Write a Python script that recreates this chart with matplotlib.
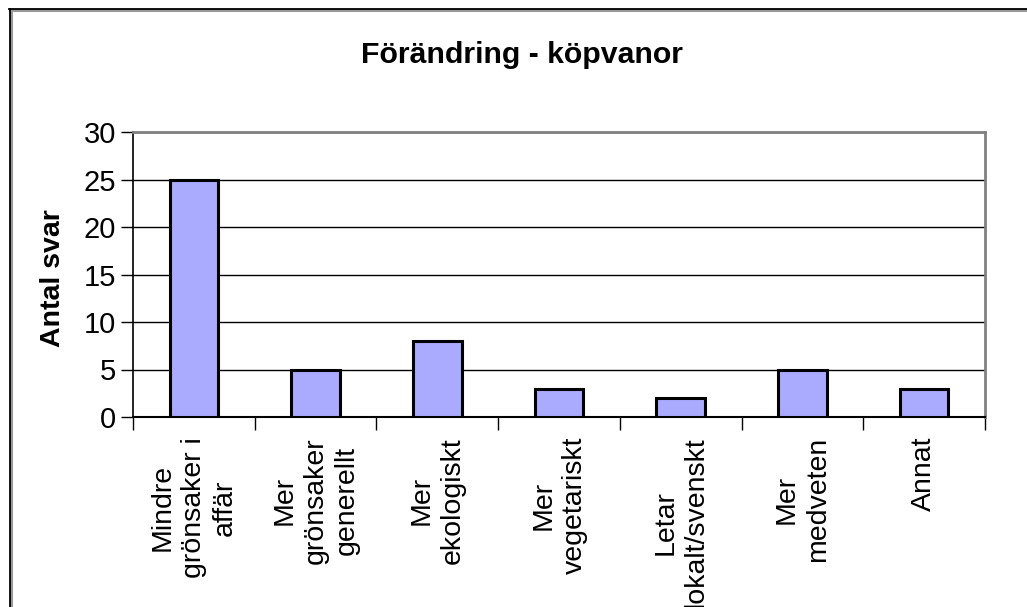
import matplotlib
matplotlib.use("Agg")
import matplotlib.pyplot as plt
from matplotlib.lines import Line2D

categories = ["Mindre\ngrönsaker i\naffär", "Mer\ngrönsaker\ngenerellt", "Mer\nekologiskt",
              "Mer\nvegetariskt", "Letar\nlokalt/svenskt", "Mer\nmedveten", "Annat"]
values = [25, 5, 8, 3, 2, 5, 3]
yticks = [0, 5, 10, 15, 20, 25, 30]
title = "Förändring - köpvanor"
ylabel = "Antal svar"

plt.rcParams['font.family'] = ['Liberation Sans', 'DejaVu Sans']

W, H = 1027, 607
fig = plt.figure(figsize=(W / 100, H / 100), dpi=100)
fig.patch.set_facecolor('white')

# outer chart border (only left/top visible)
fig.add_artist(Line2D([10.5 / W, 10.5 / W], [0, 1 - 9.5 / H], transform=fig.transFigure, color='#999999', lw=2.2))
fig.add_artist(Line2D([10.5 / W, 1], [1 - 9.5 / H, 1 - 9.5 / H], transform=fig.transFigure, color='#999999', lw=2.2))
fig.add_artist(Line2D([9.5 / W, 9.5 / W], [0, 1 - 9 / H], transform=fig.transFigure, color='black', lw=1.3))
fig.add_artist(Line2D([9 / W, 1], [1 - 9 / H, 1 - 9 / H], transform=fig.transFigure, color='black', lw=1.3))

left, right, top, bottom = 133, 985, 132, 417
ax = fig.add_axes([left / W, 1 - bottom / H, (right - left) / W, (bottom - top) / H])

x = list(range(len(categories)))
ax.bar(x, values, width=0.4, color='#AAAAFF', edgecolor='black', linewidth=2.2, zorder=3)

ax.set_xlim(-0.5, len(categories) - 0.5)
ax.set_ylim(0, 30)
ax.set_yticks(yticks)
ax.set_yticklabels([str(t) for t in yticks], fontsize=21)
ax.tick_params(axis='y', direction='out', length=9, width=1, pad=3)

ax.set_xticks([i - 0.5 for i in range(len(categories) + 1)])
ax.set_xticklabels([])
ax.tick_params(axis='x', direction='out', length=9, width=1)
for i, c in enumerate(categories):
    ax.text(i, -2.1, c, rotation=90, ha='center', va='top', multialignment='center',
            fontsize=20.5, linespacing=1.25, transform=ax.transData)

ax.yaxis.grid(True, color='black', linewidth=1, zorder=0)
ax.set_axisbelow(True)
for s in ['top', 'right']:
    ax.spines[s].set_color('#808080')
    ax.spines[s].set_linewidth(2)
ax.spines['left'].set_color('black')
ax.spines['bottom'].set_color('black')
ax.spines['left'].set_linewidth(1.2)
ax.spines['bottom'].set_linewidth(1.5)

fig.text(522 / W, 1 - 55 / H, title, ha='center', va='center', fontsize=21.8, fontweight='bold')
fig.text(53 / W, 1 - 278 / H, ylabel, ha='center', va='center', rotation=90, fontsize=20.5, fontweight='bold')

fig.savefig('out.png', dpi=100)
